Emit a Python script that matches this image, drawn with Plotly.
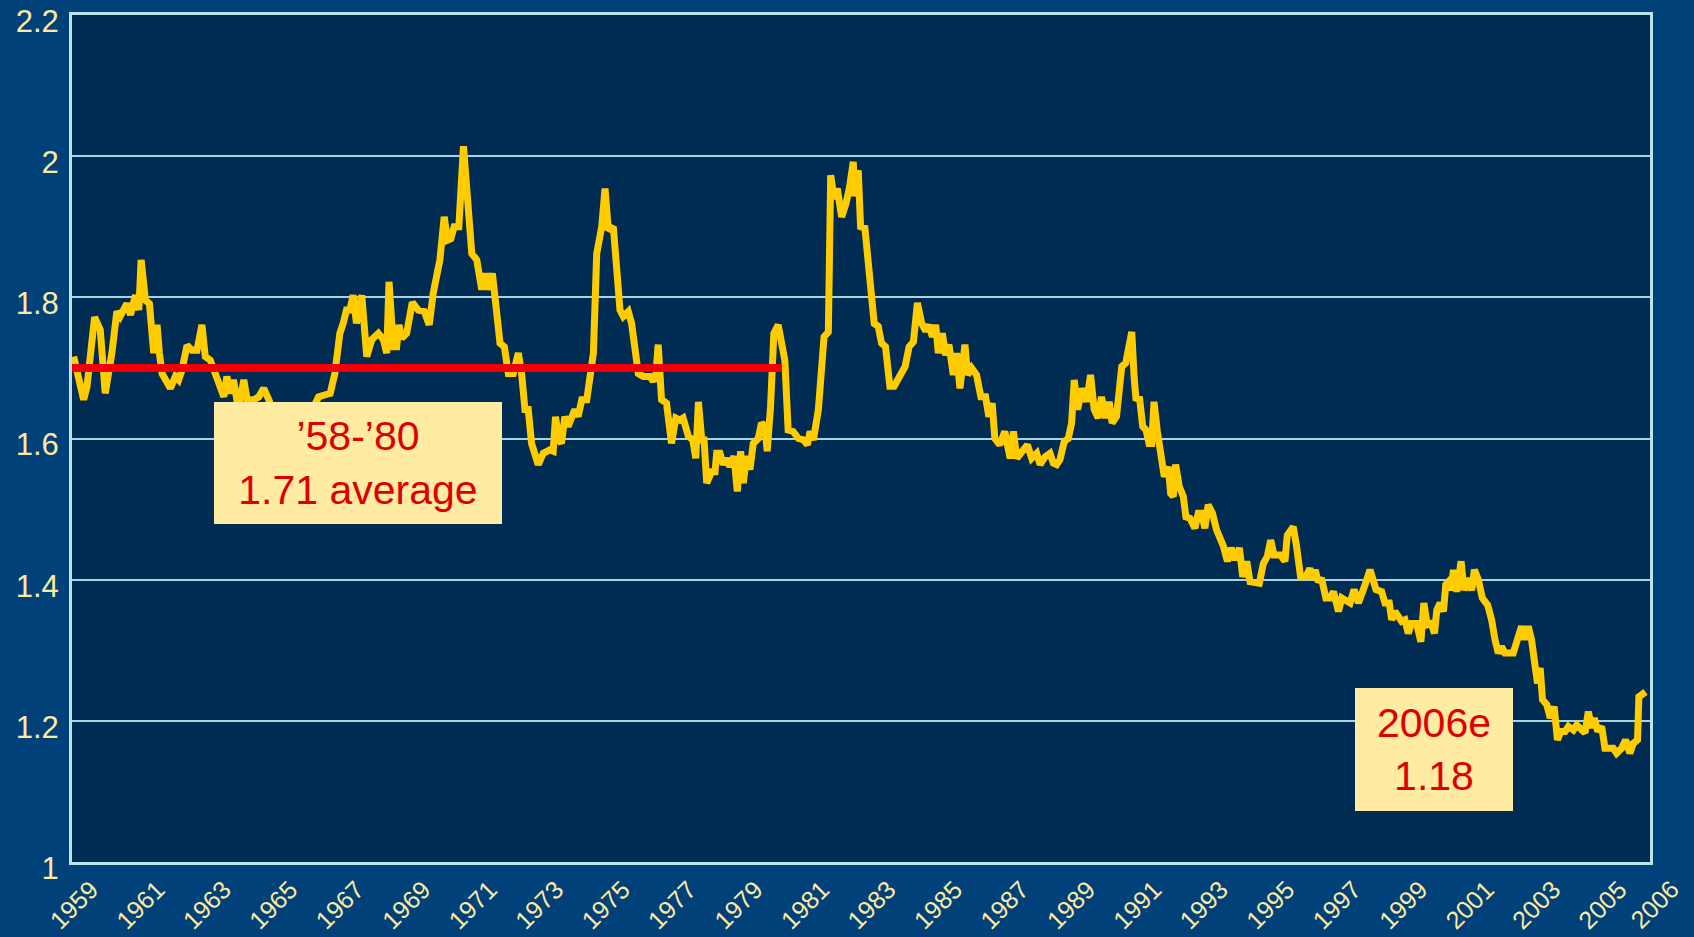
import plotly.graph_objects as go

years = [
    1958.48, 1958.58, 1958.78, 1958.88, 1959.11, 1959.28, 1959.43, 1959.63, 1959.78, 1959.88,
    1960.08, 1960.19, 1960.34, 1960.44, 1960.51, 1960.64, 1960.76, 1960.89, 1960.99, 1961.06,
    1961.14, 1961.39, 1961.54, 1961.64, 1961.74, 1961.89, 1962.04, 1962.19, 1962.34, 1962.44,
    1962.59, 1962.74, 1963.00, 1963.09, 1963.19, 1963.29, 1963.39, 1963.49, 1963.60, 1963.70,
    1963.90, 1964.05, 1964.20, 1964.35, 1964.55, 1964.85, 1965.15, 1965.45, 1965.70, 1965.85,
    1966.05, 1966.20, 1966.34, 1966.49, 1966.59, 1966.69, 1966.79, 1966.89, 1966.99, 1967.15,
    1967.30, 1967.45, 1967.65, 1967.80, 1967.90, 1967.97, 1968.10, 1968.20, 1968.27, 1968.35,
    1968.50, 1968.67, 1968.85, 1969.03, 1969.18, 1969.30, 1969.50, 1969.63, 1969.73, 1969.83,
    1969.93, 1970.07, 1970.21, 1970.34, 1970.46, 1970.61, 1970.76, 1970.86, 1970.96, 1971.08,
    1971.21, 1971.31, 1971.44, 1971.56, 1971.71, 1971.86, 1971.96, 1972.06, 1972.16, 1972.26,
    1972.46, 1972.61, 1972.81, 1972.91, 1972.98, 1973.08, 1973.16, 1973.26, 1973.36, 1973.56,
    1973.66, 1973.77, 1973.92, 1974.02, 1974.12, 1974.22, 1974.37, 1974.47, 1974.57, 1974.72,
    1974.82, 1974.92, 1975.02, 1975.17, 1975.27, 1975.37, 1975.47, 1975.62, 1975.82, 1975.92,
    1976.00, 1976.07, 1976.17, 1976.32, 1976.47, 1976.60, 1976.72, 1976.82, 1976.98, 1977.11,
    1977.20, 1977.28, 1977.38, 1977.45, 1977.53, 1977.68, 1977.78, 1977.83, 1977.93, 1978.03,
    1978.13, 1978.23, 1978.35, 1978.45, 1978.55, 1978.63, 1978.73, 1978.83, 1978.93, 1979.08,
    1979.18, 1979.28, 1979.35, 1979.45, 1979.55, 1979.68, 1979.78, 1979.88, 1979.98, 1980.13,
    1980.29, 1980.44, 1980.56, 1980.64, 1980.74, 1980.89, 1981.06, 1981.19, 1981.26, 1981.36,
    1981.46, 1981.59, 1981.72, 1981.82, 1981.94, 1981.99, 1982.09, 1982.16, 1982.29, 1982.39,
    1982.49, 1982.57, 1982.69, 1982.79, 1982.91, 1983.04, 1983.17, 1983.29, 1983.50, 1983.62,
    1983.75, 1983.87, 1984.00, 1984.12, 1984.22, 1984.32, 1984.42, 1984.50, 1984.62, 1984.72,
    1984.82, 1984.95, 1985.05, 1985.15, 1985.30, 1985.38, 1985.50, 1985.65, 1985.78, 1985.92,
    1986.02, 1986.12, 1986.20, 1986.35, 1986.50, 1986.66, 1986.76, 1986.86, 1987.01, 1987.18,
    1987.31, 1987.46, 1987.56, 1987.71, 1987.86, 1987.96, 1988.06, 1988.16, 1988.29, 1988.41,
    1988.51, 1988.59, 1988.69, 1988.83, 1988.96, 1989.08, 1989.19, 1989.31, 1989.41, 1989.53,
    1989.64, 1989.73, 1989.86, 1990.02, 1990.14, 1990.32, 1990.39, 1990.45, 1990.55, 1990.65,
    1990.75, 1990.84, 1990.92, 1990.99, 1991.09, 1991.22, 1991.30, 1991.42, 1991.49, 1991.57,
    1991.64, 1991.75, 1991.87, 1991.95, 1992.07, 1992.22, 1992.32, 1992.42, 1992.52, 1992.62,
    1992.75, 1992.87, 1993.08, 1993.20, 1993.31, 1993.43, 1993.56, 1993.66, 1993.78, 1993.88,
    1994.03, 1994.16, 1994.28, 1994.40, 1994.50, 1994.60, 1994.80, 1994.93, 1995.00, 1995.18,
    1995.28, 1995.40, 1995.56, 1995.68, 1995.76, 1995.84, 1995.93, 1996.03, 1996.16, 1996.29,
    1996.39, 1996.54, 1996.64, 1996.77, 1996.89, 1997.01, 1997.14, 1997.29, 1997.49, 1997.67,
    1997.84, 1997.94, 1998.07, 1998.14, 1998.24, 1998.34, 1998.44, 1998.54, 1998.64, 1998.74,
    1998.89, 1999.02, 1999.11, 1999.21, 1999.33, 1999.43, 1999.50, 1999.60, 1999.70, 1999.77,
    1999.85, 1999.93, 2000.00, 2000.10, 2000.23, 2000.32, 2000.43, 2000.55, 2000.63, 2000.75,
    2000.87, 2001.03, 2001.15, 2001.25, 2001.35, 2001.45, 2001.55, 2001.80, 2001.90, 2002.05,
    2002.15, 2002.25, 2002.35, 2002.45, 2002.53, 2002.61, 2002.68, 2002.81, 2002.91, 2003.03,
    2003.13, 2003.23, 2003.36, 2003.46, 2003.61, 2003.71, 2003.86, 2003.96, 2004.06, 2004.16,
    2004.24, 2004.34, 2004.46, 2004.56, 2004.71, 2004.81, 2004.91, 2005.06, 2005.18, 2005.31,
    2005.41, 2005.54, 2005.58, 2005.71, 2005.78,
]

ratio = [
    1.716, 1.692, 1.655, 1.673, 1.772, 1.754, 1.664, 1.721, 1.780, 1.773,
    1.791, 1.775, 1.803, 1.782, 1.853, 1.796, 1.791, 1.721, 1.761, 1.721,
    1.692, 1.671, 1.688, 1.683, 1.697, 1.732, 1.725, 1.725, 1.761, 1.716,
    1.711, 1.692, 1.659, 1.688, 1.664, 1.683, 1.655, 1.655, 1.683, 1.655,
    1.655, 1.659, 1.671, 1.655, 1.630, 1.620, 1.635, 1.620, 1.645, 1.659,
    1.662, 1.664, 1.692, 1.749, 1.763, 1.782, 1.782, 1.803, 1.763, 1.803,
    1.716, 1.740, 1.749, 1.740, 1.721, 1.822, 1.730, 1.730, 1.761, 1.742,
    1.749, 1.793, 1.782, 1.780, 1.761, 1.806, 1.853, 1.914, 1.881, 1.883,
    1.900, 1.900, 2.014, 1.914, 1.862, 1.853, 1.811, 1.834, 1.811, 1.834,
    1.787, 1.735, 1.730, 1.692, 1.692, 1.721, 1.692, 1.641, 1.641, 1.593,
    1.563, 1.579, 1.584, 1.582, 1.631, 1.598, 1.593, 1.631, 1.617, 1.641,
    1.631, 1.655, 1.655, 1.683, 1.721, 1.862, 1.900, 1.954, 1.895, 1.900,
    1.853, 1.782, 1.773, 1.780, 1.763, 1.721, 1.692, 1.688, 1.688, 1.681,
    1.692, 1.733, 1.655, 1.650, 1.593, 1.629, 1.626, 1.629, 1.603, 1.598,
    1.572, 1.652, 1.598, 1.598, 1.537, 1.553, 1.553, 1.579, 1.579, 1.563,
    1.572, 1.560, 1.575, 1.525, 1.582, 1.537, 1.575, 1.556, 1.593, 1.600,
    1.622, 1.617, 1.582, 1.645, 1.749, 1.761, 1.740, 1.711, 1.612, 1.610,
    1.600, 1.598, 1.591, 1.610, 1.598, 1.641, 1.744, 1.751, 1.973, 1.940,
    1.954, 1.914, 1.933, 1.954, 1.992, 1.943, 1.980, 1.900, 1.898, 1.848,
    1.815, 1.763, 1.759, 1.735, 1.730, 1.674, 1.674, 1.685, 1.702, 1.730,
    1.737, 1.792, 1.763, 1.752, 1.761, 1.744, 1.761, 1.721, 1.749, 1.718,
    1.733, 1.690, 1.721, 1.671, 1.733, 1.690, 1.700, 1.690, 1.659, 1.659,
    1.631, 1.650, 1.600, 1.591, 1.610, 1.572, 1.610, 1.572, 1.582, 1.591,
    1.572, 1.579, 1.563, 1.574, 1.579, 1.565, 1.563, 1.570, 1.596, 1.600,
    1.622, 1.683, 1.641, 1.671, 1.652, 1.690, 1.641, 1.629, 1.659, 1.629,
    1.652, 1.622, 1.631, 1.702, 1.707, 1.751, 1.688, 1.654, 1.659, 1.617,
    1.612, 1.593, 1.593, 1.652, 1.610, 1.574, 1.546, 1.560, 1.522, 1.518,
    1.563, 1.532, 1.518, 1.489, 1.487, 1.473, 1.494, 1.494, 1.473, 1.506,
    1.494, 1.471, 1.447, 1.426, 1.445, 1.428, 1.445, 1.404, 1.426, 1.397,
    1.395, 1.395, 1.423, 1.433, 1.456, 1.435, 1.435, 1.426, 1.463, 1.475,
    1.447, 1.404, 1.404, 1.416, 1.402, 1.414, 1.397, 1.402, 1.374, 1.374,
    1.383, 1.355, 1.374, 1.369, 1.367, 1.386, 1.367, 1.386, 1.414, 1.386,
    1.383, 1.367, 1.367, 1.343, 1.355, 1.348, 1.341, 1.343, 1.324, 1.338,
    1.338, 1.312, 1.367, 1.336, 1.338, 1.324, 1.357, 1.367, 1.355, 1.393,
    1.397, 1.385, 1.414, 1.383, 1.426, 1.385, 1.402, 1.385, 1.414, 1.400,
    1.374, 1.364, 1.343, 1.315, 1.296, 1.305, 1.296, 1.296, 1.312, 1.334,
    1.315, 1.334, 1.315, 1.277, 1.253, 1.275, 1.230, 1.223, 1.204, 1.220,
    1.173, 1.185, 1.185, 1.192, 1.187, 1.194, 1.187, 1.183, 1.213, 1.190,
    1.204, 1.185, 1.192, 1.161, 1.161, 1.161, 1.154, 1.161, 1.173, 1.154,
    1.168, 1.173, 1.234, 1.237, 1.241,
]

avg_span = [1958.43, 1979.78]
avg_value = [1.70, 1.70]

x_tick_years = list(range(1959, 2006, 2))
x_tick_text = [str(y) for y in x_tick_years]
y_ticks = [1, 1.2, 1.4, 1.6, 1.8, 2.0, 2.2]
y_tick_text = ["1", "1.2", "1.4", "1.6", "1.8", "2", "2.2"]

box1_text = "\u201958-\u201980<br>1.71 average"
box2_text = "2006e<br>1.18"
end_label = "2006"

FONT = "Arial, Liberation Sans, sans-serif"
TICK_COLOR = "#ffe9a0"
BOX_FILL = "#ffeba2"
BOX_TEXT = "#dd0000"

fig = go.Figure()
fig.add_trace(go.Scatter(
    x=years, y=ratio, mode="lines",
    line=dict(color="#ffcc00", width=7),
    hoverinfo="skip", showlegend=False,
))
fig.add_trace(go.Scatter(
    x=avg_span, y=avg_value, mode="lines",
    line=dict(color="#f00000", width=8),
    hoverinfo="skip", showlegend=False,
))

fig.update_layout(
    width=1694, height=937,
    margin=dict(l=72, r=44, t=15, b=75, autoexpand=False),
    paper_bgcolor="#00417a",
    plot_bgcolor="#002b52",
    showlegend=False,
    font=dict(family=FONT, color=TICK_COLOR),
    annotations=[
        dict(text=box1_text, xref="paper", yref="paper", x=0.090, y=0.5431,
             xanchor="left", yanchor="top", showarrow=False,
             width=288, height=122, bgcolor=BOX_FILL, borderpad=0, borderwidth=0,
             align="center", valign="middle",
             font=dict(size=41, color=BOX_TEXT, family=FONT)),
        dict(text=box2_text, xref="paper", yref="paper", x=0.8131, y=0.2054,
             xanchor="left", yanchor="top", showarrow=False,
             width=158, height=123, bgcolor=BOX_FILL, borderpad=0, borderwidth=0,
             align="center", valign="middle",
             font=dict(size=41, color=BOX_TEXT, family=FONT)),
        dict(text=end_label, xref="paper", yref="paper", x=1.0032, y=-0.050,
             xanchor="center", yanchor="middle", showarrow=False, textangle=-45,
             font=dict(size=25, color=TICK_COLOR, family=FONT)),
    ],
)

fig.update_xaxes(
    range=[1958.43, 2005.915], automargin=False,
    tickmode="array", tickvals=x_tick_years, ticktext=x_tick_text,
    tickangle=-45, tickfont=dict(size=25, color=TICK_COLOR),
    ticklabelstandoff=0,
    showgrid=False, zeroline=False, ticks="",
    showline=True, mirror=True, linecolor="#bde3ea", linewidth=3,
)
fig.update_yaxes(
    range=[1, 2.2], automargin=False,
    tickmode="array", tickvals=y_ticks, ticktext=y_tick_text,
    tickfont=dict(size=31, color=TICK_COLOR),
    showgrid=True, gridcolor="#a9d4df", gridwidth=2,
    zeroline=False, ticks="",
    showline=True, mirror=True, linecolor="#bde3ea", linewidth=3,
    ticklabelstandoff=4, ticklabelshift=6,
)

fig.write_html(
    "out.html",
    config={"displayModeBar": False},
    post_script="document.body.style.margin='0';document.body.style.overflow='hidden';",
)
